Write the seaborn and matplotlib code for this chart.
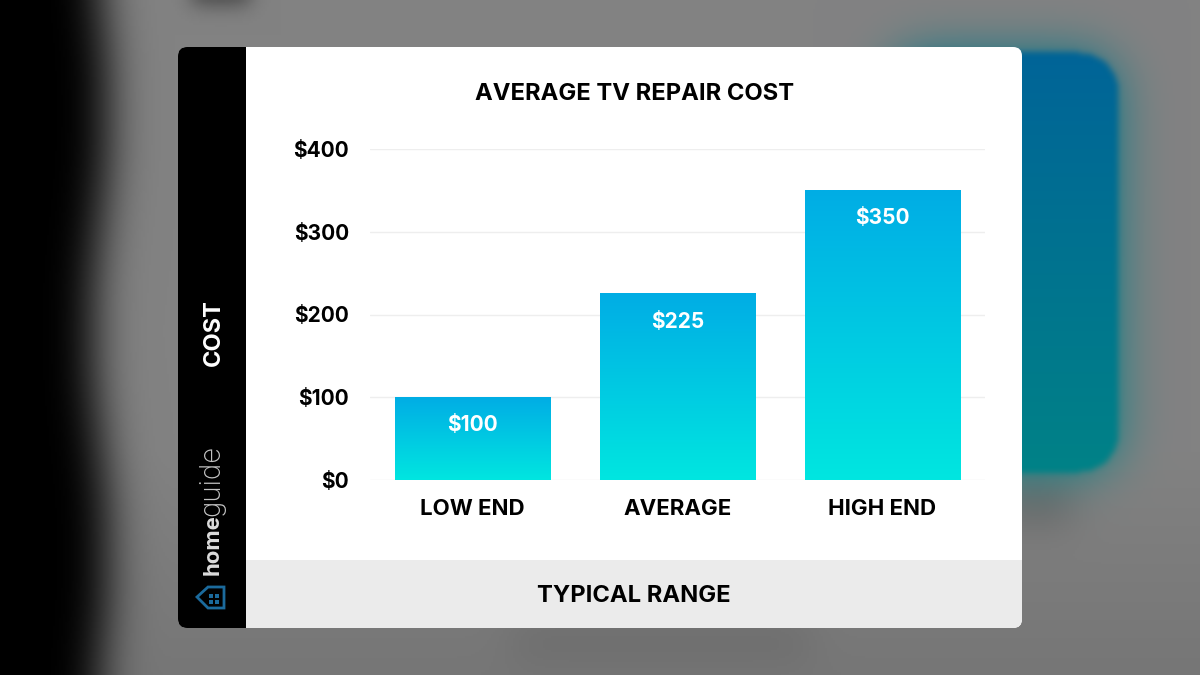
import numpy as np
import pandas as pd
import matplotlib
matplotlib.use('Agg')
import matplotlib.pyplot as plt
from matplotlib.colors import LinearSegmentedColormap
from matplotlib.patches import FancyBboxPatch, Polygon, Rectangle
import seaborn as sns

categories = ['LOW END', 'AVERAGE', 'HIGH END']
costs = [100, 225, 350]
bar_labels = ['$100', '$225', '$350']
y_ticks = [0, 100, 200, 300, 400]
y_tick_labels = ['$0', '$100', '$200', '$300', '$400']
title = 'AVERAGE TV REPAIR COST'
x_title = 'TYPICAL RANGE'
y_title = 'COST'

W, H = 1200, 675


def blur(a, sigma):
    # separable gaussian, enough for the backdrop
    r = int(sigma * 3)
    k = np.exp(-np.arange(-r, r + 1)**2 / (2 * sigma**2))
    k /= k.sum()
    a = np.pad(a, r, mode='edge')
    a = np.apply_along_axis(np.convolve, 0, a, k, mode='same')
    a = np.apply_along_axis(np.convolve, 1, a, k, mode='same')
    return a[r:-r, r:-r]


def rounded_mask(xx, yy, x0, y0, x1, y1, r):
    dx = np.maximum(np.maximum(x0 + r - xx, xx - (x1 - r)), 0)
    dy = np.maximum(np.maximum(y0 + r - yy, yy - (y1 - r)), 0)
    return (dx**2 + dy**2 <= r**2).astype(float)


def make_backdrop():
    # work at half scale, imshow smooths it back up
    yy, xx = np.mgrid[0:H // 2, 0:W // 2] * 2.
    base = 130 - 12 * np.clip((yy - 450) / 225, 0, 1)
    base = base - 12 * blur(((yy > 620) & (yy < 655) & (xx > 510) & (xx < 810)).astype(float), 10)
    base = base - 26 * blur(((xx > 1000) & (xx < 1070) & (yy > 480) & (yy < 520)).astype(float), 10)
    base = base - 60 * blur(((yy < 4) & (xx > 190) & (xx < 250)).astype(float), 5)
    panel = rounded_mask(xx, yy, 885, 52, 1117, 470, 38)
    sharp = blur(panel, 1.5)
    halo = blur(panel, 12) * 0.95
    t = np.clip((yy - 50) / 420, 0, 1)
    panel_rgb = [0 * t, 100 + 30 * t, 152 - 17 * t]
    halo_rgb = [0 * t, 118 + 12 * t, 135 + 0 * t]
    dark = blur((xx < 100 + 8 * np.sin(yy / 70)).astype(float), 11)
    img = np.zeros((H // 2, W // 2, 3))
    for i in range(3):
        ch = base * (1 - halo) + halo_rgb[i] * halo
        ch = ch * (1 - sharp) + panel_rgb[i] * sharp
        img[:, :, i] = ch * (1 - dark)
    return np.clip(img, 0, 255).astype(np.uint8)


sns.set_theme(style='white')
plt.rcParams['font.family'] = ['Inter', 'DejaVu Sans']

fig = plt.figure(figsize=(12, 6.75), dpi=100)

# page layer in pixel coordinates
bg = fig.add_axes([0, 0, 1, 1])
bg.axis('off')
bg.imshow(make_backdrop(), extent=(0, W, H, 0), aspect='auto', interpolation='bilinear', zorder=0)
bg.set(xlim=(0, W), ylim=(H, 0))
card = FancyBboxPatch((178, 47), 844, 581, boxstyle='round,pad=0,rounding_size=9',
                      fc='white', ec='none', zorder=1)
bg.add_patch(card)
side = Rectangle((178, 47), 68, 581, fc='black', ec='none', zorder=2)
bg.add_patch(side)
side.set_clip_path(card)
foot = Rectangle((246, 560), 776, 68, fc='#ebebeb', ec='none', zorder=2)
bg.add_patch(foot)
foot.set_clip_path(card)

bg.text(635, 94, title, ha='center', va='center', fontsize=17.1, fontweight='bold', color='black', zorder=3)
bg.text(634, 596.5, x_title, ha='center', va='center', fontsize=17.1, fontweight='bold', color='black', zorder=3)
bg.text(214, 333, y_title, rotation=90, ha='center', va='center', fontsize=17, fontweight='bold',
        color='white', zorder=3)
bg.text(213, 575, 'home', rotation=90, ha='center', va='bottom', fontsize=16, fontweight='bold',
        color='#dcdcdc', zorder=3)
bg.text(212, 516, 'guide', rotation=90, ha='center', va='bottom', fontsize=20, fontweight='light',
        color='#c4c4c4', zorder=3)
# house logo, pointing left
logo = '#1b6a9c'
bg.add_patch(Polygon([(197, 597), (208, 587), (224, 587), (224, 608), (208, 608)], closed=True,
                     fc='none', ec=logo, lw=2, zorder=3))
for px in (209, 215):
    for py in (594, 600):
        bg.add_patch(Rectangle((px, py), 4, 4, fc=logo, ec='none', zorder=3))

# chart
ax = fig.add_axes([370 / W, 1 - 480 / H, 615 / W, 331 / H])
ax.patch.set_alpha(0)
df = pd.DataFrame({'category': categories, 'cost': costs})
sns.barplot(data=df, x='category', y='cost', width=0.76, color='#00ade5', ax=ax, zorder=2)
ax.set(xlim=(-0.5, 2.5), ylim=(0, 400), xlabel=None, ylabel=None)
ax.set_yticks(y_ticks, labels=y_tick_labels)
ax.yaxis.grid(True, color='#eeeeee', lw=1)
ax.set_axisbelow(True)
sns.despine(ax=ax, left=True, bottom=True)
ax.tick_params(axis='both', length=0)
ax.tick_params(axis='y', pad=15, labelsize=15)
ax.tick_params(axis='x', pad=14, labelsize=16)
for lab in ax.get_xticklabels() + ax.get_yticklabels():
    lab.set_fontweight('bold')
    lab.set_color('black')

# vertical gradient per bar
cmap = LinearSegmentedColormap.from_list('bar', ['#00e6e0', '#00ade5'])
grad = np.linspace(0, 1, 256).reshape(-1, 1)
for patch, txt in zip(ax.patches, bar_labels):
    x0, w, h = patch.get_x(), patch.get_width(), patch.get_height()
    patch.set_visible(False)
    ax.imshow(grad, origin='lower', cmap=cmap, extent=(x0, x0 + w, 0, h), aspect='auto', zorder=2)
    ax.annotate(txt, (x0 + w / 2, h), xytext=(0, -28), textcoords='offset pixels', ha='center', va='center',
                color='white', fontsize=15, fontweight='bold', zorder=3)
ax.set(xlim=(-0.5, 2.5), ylim=(0, 400))

fig.savefig('out.png', dpi=100)
